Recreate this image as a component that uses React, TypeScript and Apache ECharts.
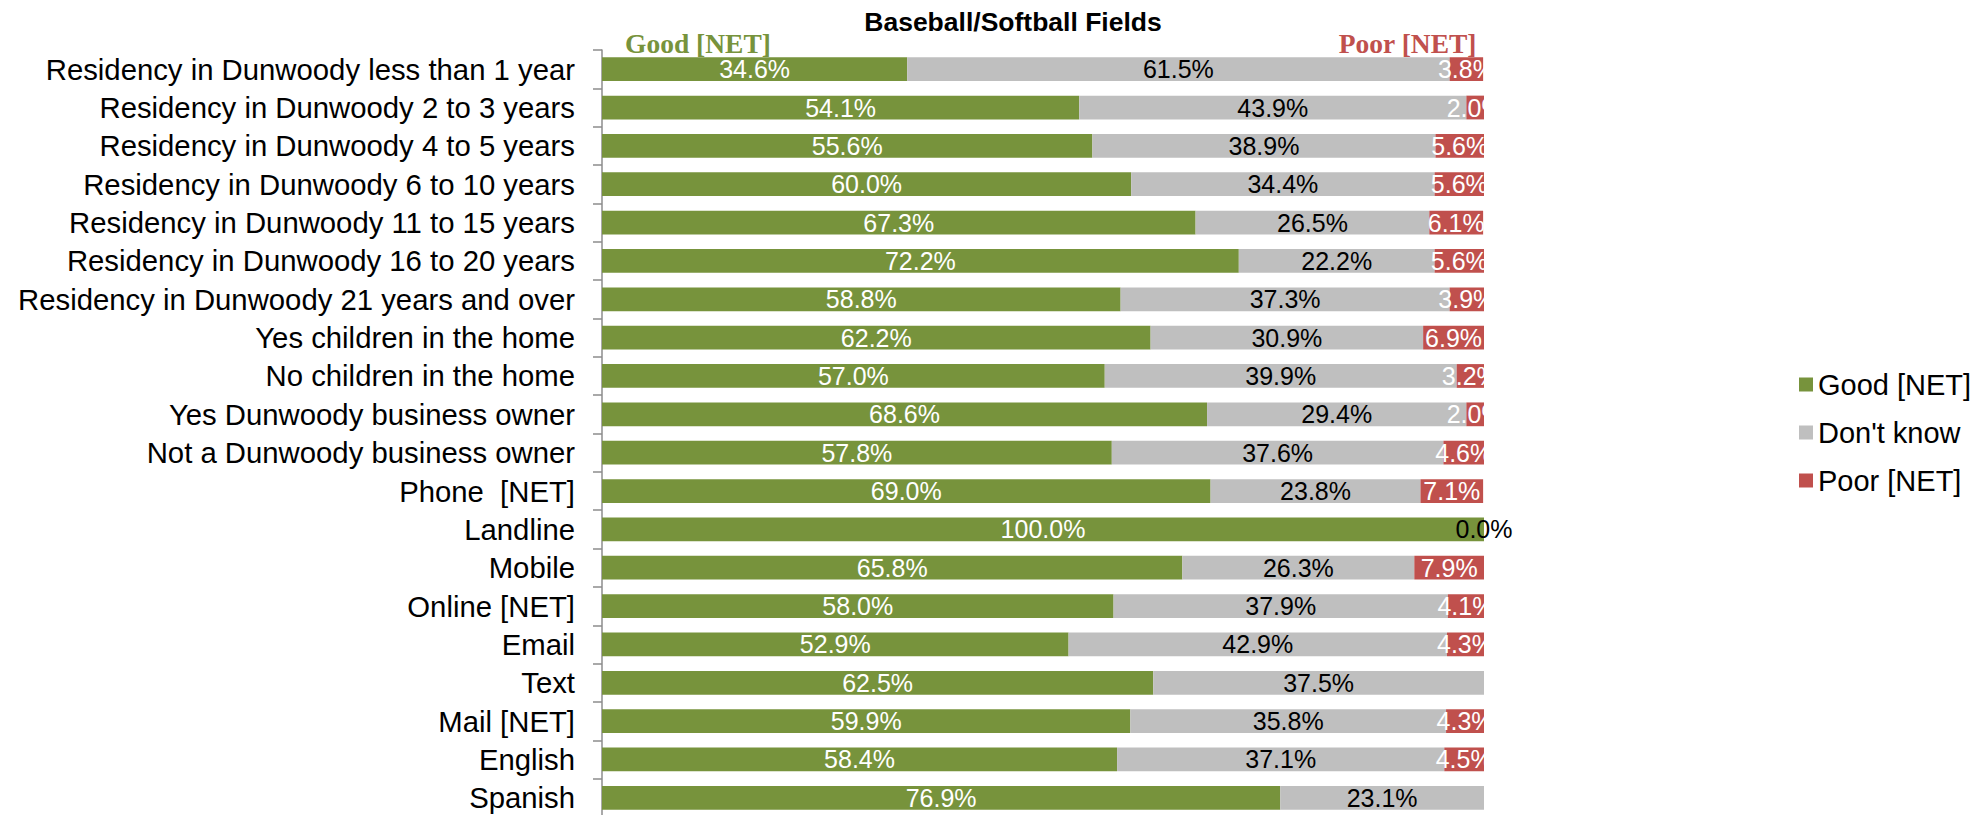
import React, { useEffect, useRef } from "react";
import * as echarts from "echarts";

const categories = [
  "Residency in Dunwoody less than 1 year",
  "Residency in Dunwoody 2 to 3 years",
  "Residency in Dunwoody 4 to 5 years",
  "Residency in Dunwoody 6 to 10 years",
  "Residency in Dunwoody 11 to 15 years",
  "Residency in Dunwoody 16 to 20 years",
  "Residency in Dunwoody 21 years and over",
  "Yes children in the home",
  "No children in the home",
  "Yes Dunwoody business owner",
  "Not a Dunwoody business owner",
  "Phone  [NET]",
  "Landline",
  "Mobile",
  "Online [NET]",
  "Email",
  "Text",
  "Mail [NET]",
  "English",
  "Spanish",
];

const goodValues = [34.6, 54.1, 55.6, 60.0, 67.3, 72.2, 58.8, 62.2, 57.0, 68.6, 57.8, 69.0, 100.0, 65.8, 58.0, 52.9, 62.5, 59.9, 58.4, 76.9];
const dontKnowValues = [61.5, 43.9, 38.9, 34.4, 26.5, 22.2, 37.3, 30.9, 39.9, 29.4, 37.6, 23.8, 0.0, 26.3, 37.9, 42.9, 37.5, 35.8, 37.1, 23.1];
const poorValues: (number | null)[] = [3.8, 2.0, 5.6, 5.6, 6.1, 5.6, 3.9, 6.9, 3.2, 2.0, 4.6, 7.1, null, 7.9, 4.1, 4.3, null, 4.3, 4.5, null];

const seriesNames = ["Good [NET]", "Don't know", "Poor [NET]"];
const colors = ["#77933C", "#BFBFBF", "#C0504D"];
const labelColors = ["#FFFFFF", "#000000", "#FFFFFF"];

const titleText = "Baseball/Softball Fields";
const leftHeader = "Good [NET]";
const rightHeader = "Poor [NET]";

const SANS = "'Liberation Sans', Arial, sans-serif";
const SERIF = "'Liberation Serif', 'Times New Roman', serif";

export default function App() {
  const ref = useRef<HTMLDivElement>(null);

  useEffect(() => {
    if (!ref.current) return;
    document.body.style.margin = "0";
    const chart = echarts.init(ref.current, undefined, { renderer: "svg" });
    const dataSets = [goodValues, dontKnowValues, poorValues];
    const series = dataSets.map((d, i) => ({
      name: seriesNames[i],
      type: "bar",
      stack: "total",
      data: d,
      barCategoryGap: "38%",
      itemStyle: { color: colors[i] },
      label: {
        show: true,
        position: "inside",
        color: labelColors[i],
        fontSize: 25,
        fontFamily: SANS,
        formatter: (p: any) => (p.value == null ? "" : Number(p.value).toFixed(1) + "%"),
      },
      emphasis: { disabled: true },
    }));

    chart.setOption({
      animation: false,
      textStyle: { fontFamily: SANS },
      title: {
        text: titleText,
        left: 1013,
        top: 8,
        padding: 0,
        textAlign: "center",
        textStyle: { fontSize: 26.5, fontWeight: "bold", color: "#000", fontFamily: SANS },
      },
      legend: {
        orient: "vertical",
        left: 1799,
        top: 370,
        padding: 0,
        itemWidth: 14,
        itemHeight: 14,
        itemGap: 19,
        icon: "rect",
        selectedMode: false,
        textStyle: { fontSize: 29, color: "#000", fontFamily: SANS, lineHeight: 29 },
        data: seriesNames,
      },
      grid: {
        left: 602,
        top: 50,
        width: 882,
        height: 767,
        containLabel: false,
        outerBoundsMode: "none",
      },
      xAxis: {
        type: "value",
        min: 0,
        max: 100,
        show: false,
      },
      yAxis: {
        type: "category",
        inverse: true,
        data: categories,
        axisLine: { show: true, lineStyle: { color: "#8C8C8C", width: 1.5 } },
        axisTick: { show: true, length: 9, lineStyle: { color: "#8C8C8C", width: 1.5 } },
        axisLabel: { fontSize: 29.3, color: "#000", margin: 27, fontFamily: SANS },
        splitLine: { show: false },
      },
      graphic: [
        {
          type: "text",
          left: 625,
          top: 29,
          style: {
            text: leftHeader,
            fill: colors[0],
            font: "bold 27.5px " + SERIF,
          },
        },
        {
          type: "text",
          right: 1985 - 1477,
          top: 29,
          style: {
            text: rightHeader,
            fill: colors[2],
            font: "bold 27.5px " + SERIF,
          },
        },
      ],
      series,
    });

    return () => chart.dispose();
  }, []);

  return (
    <div
      ref={ref}
      style={{ position: "absolute", left: 0, top: 0, width: 1985, height: 815 }}
    />
  );
}
